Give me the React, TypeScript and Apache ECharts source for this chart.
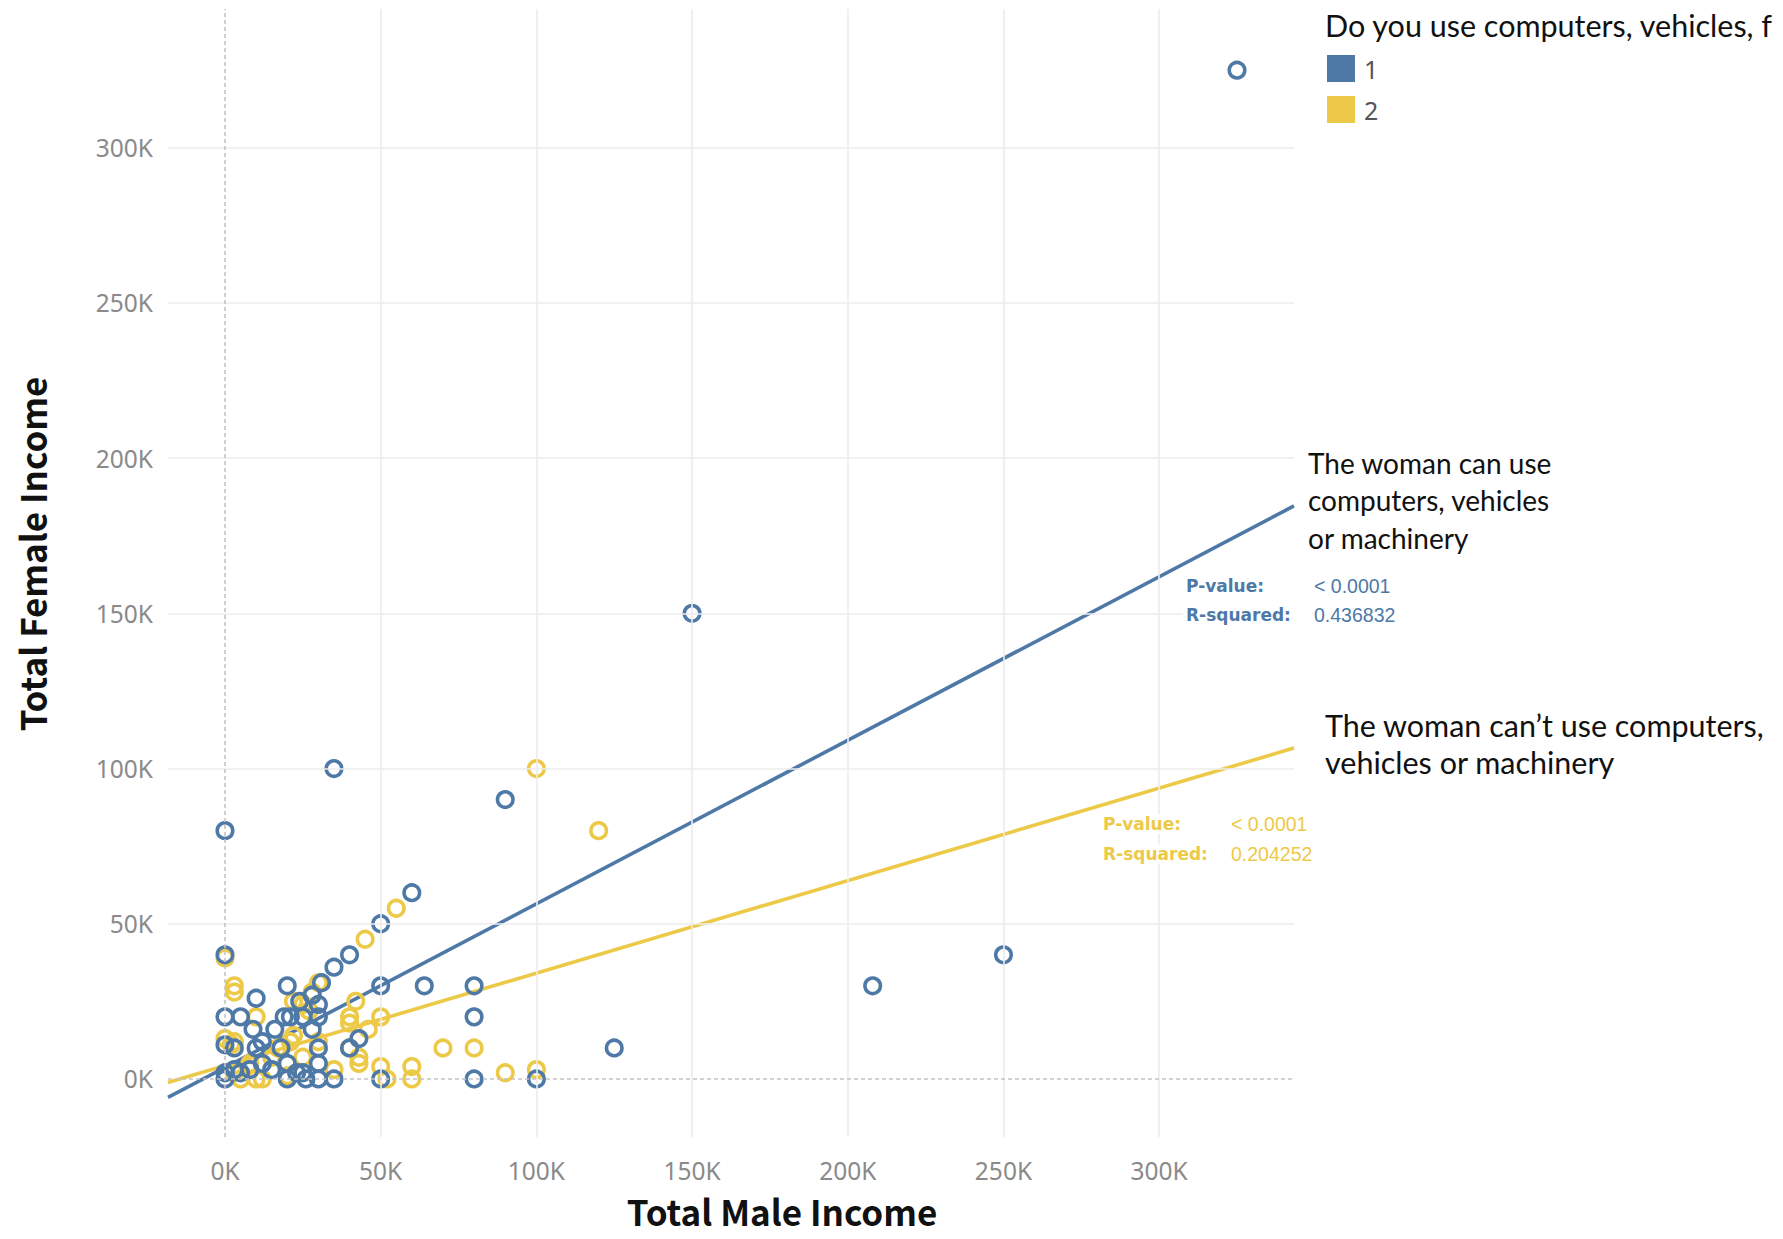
import React, { useEffect, useRef } from "react";
import * as echarts from "echarts";

// Axis ranges and ticks (K = thousands)
const X_MIN = -18300;
const X_MAX = 343300;
const Y_MIN = -18700;
const Y_MAX = 344700;
const X_TICKS = [0, 50000, 100000, 150000, 200000, 250000, 300000];
const Y_TICKS = [0, 50000, 100000, 150000, 200000, 250000, 300000];

const CATEGORIES = ["1", "2"];
const COLORS = ["#4e79a7", "#edc948"];

// Points in thousands: [male income, female income]
const GROUP1_K: [number, number][] = [
  [325, 325], [150, 150], [35, 100], [0, 80], [90, 90], [60, 60], [50, 50], [40, 40],
  [35, 36], [31, 31], [0, 40], [208, 30], [250, 40], [125, 10], [64, 30], [80, 30],
  [80, 20], [80, 0], [100, 0], [50, 30], [50, 0], [35, 0], [40, 10], [43, 13],
  [20, 30], [10, 26], [0, 20], [5, 20], [19, 20], [21, 20], [9, 16], [16, 16],
  [28, 16], [24, 25], [30, 24], [30, 20], [28, 27], [0, 11], [3, 10], [12, 12],
  [10, 10], [30, 10], [30, 5], [30, 0], [20, 5], [20, 0], [25, 2], [26, 0],
  [15, 3], [8, 3], [3, 3], [0, 0], [0, 2], [5, 2], [23, 2], [12, 5], [18, 10], [25, 20],
];
const GROUP2_K: [number, number][] = [
  [100, 100], [120, 80], [55, 55], [45, 45], [0, 39], [3, 30], [3, 28], [42, 25],
  [30, 31], [28, 28], [25, 24], [22, 25], [50, 20], [40, 20], [40, 18], [46, 16],
  [10, 20], [70, 10], [80, 10], [40, 10], [43, 7], [43, 5], [50, 4], [60, 4],
  [60, 0], [52, 0], [90, 2], [100, 3], [0, 13], [3, 12], [2, 11], [5, 0],
  [10, 0], [12, 0], [3, 2], [15, 7], [17, 10], [21, 12], [22, 14], [20, 1],
  [25, 7], [30, 12], [27, 22], [8, 5], [35, 3],
];

// Trend lines: female = intercept + slope * male
const TREND_INTERCEPT = [3700, 4300];
const TREND_SLOPE = [0.527, 0.298];
const P_VALUES = ["< 0.0001", "< 0.0001"];
const R_SQUARED = ["0.436832", "0.204252"];

const LEGEND_TITLE = "Do you use computers, vehicles, f";
const NOTE_1 = "The woman can use\ncomputers, vehicles\nor machinery";
const NOTE_2 = "The woman can\u2019t use computers,\nvehicles or machinery";

const TICK_FONT = "Noto Sans";
const TEXT_FONT = "Noto Sans CJK SC";
const NOTE_FONT = "Lato";

export default function App() {
  const ref = useRef<HTMLDivElement>(null);

  useEffect(() => {
    if (!ref.current) return;
    const chart = echarts.init(ref.current, undefined, { renderer: "svg" });

    const toPts = (arr: [number, number][]) => arr.map(([x, y]) => [x * 1000, y * 1000]);
    const trend = (i: number) => [
      [X_MIN, TREND_INTERCEPT[i] + TREND_SLOPE[i] * X_MIN],
      [X_MAX, TREND_INTERCEPT[i] + TREND_SLOPE[i] * X_MAX],
    ];

    const gridLine = { color: "#ececec", width: 1.6, type: "solid" };
    const zeroLine = { color: "#c4c4c4", width: 1.6, type: [4, 3] };

    const annot = (x: number, y: number, text: string, color: string, bold: boolean, fam: string, size: number, bg?: boolean) => ({
      type: "text",
      x,
      y,
      z: 50,
      silent: true,
      style: {
        text,
        fill: color,
        fontSize: size,
        fontWeight: bold ? "bold" : "normal",
        fontFamily: fam,
        align: "left",
        verticalAlign: "middle",
        ...(bg ? { backgroundColor: "#ffffff", padding: [1, 3] } : {}),
      },
    });

    const option: any = {
      animation: false,
      backgroundColor: "#ffffff",
      grid: { left: 168, top: 9, width: 1126, height: 1128, containLabel: false },
      xAxis: {
        type: "value",
        min: X_MIN,
        max: X_MAX,
        axisLine: { show: false },
        axisTick: { show: false },
        splitLine: { show: false },
        axisLabel: {
          customValues: X_TICKS,
          formatter: (v: number) => `${Math.round(v / 1000)}K`,
          color: "#8a8a8a",
          fontSize: 24.5,
          fontFamily: TICK_FONT,
          margin: 21,
        },
      },
      yAxis: {
        type: "value",
        min: Y_MIN,
        max: Y_MAX,
        axisLine: { show: false },
        axisTick: { show: false },
        splitLine: { show: false },
        axisLabel: {
          customValues: Y_TICKS,
          formatter: (v: number) => `${Math.round(v / 1000)}K`,
          color: "#8a8a8a",
          fontSize: 24.5,
          fontFamily: TICK_FONT,
          margin: 15,
        },
      },
      legend: {
        data: CATEGORIES.map((c, i) => ({ name: c, icon: "rect", itemStyle: { color: COLORS[i], borderWidth: 0 } })),
        orient: "vertical",
        left: 1322,
        top: 50,
        itemWidth: 28,
        itemHeight: 27,
        itemGap: 14,
        selectedMode: false,
        textStyle: { fontSize: 25, color: "#555555", fontFamily: TICK_FONT, padding: [0, 0, 0, 4] },
      },
      series: [
        {
          name: "grid",
          type: "scatter",
          data: [],
          z: 0,
          silent: true,
          markLine: {
            silent: true,
            symbol: ["none", "none"],
            label: { show: false },
            lineStyle: gridLine,
            data: [
              ...X_TICKS.filter((v) => v !== 0).map((v) => ({ xAxis: v })),
              ...Y_TICKS.filter((v) => v !== 0).map((v) => ({ yAxis: v })),
            ],
          },
        },
        {
          name: "zero",
          type: "scatter",
          data: [],
          z: 1,
          silent: true,
          markLine: {
            silent: true,
            symbol: ["none", "none"],
            label: { show: false },
            lineStyle: zeroLine,
            data: [{ xAxis: 0 }, { yAxis: 0 }],
          },
        },
        {
          name: "trend2",
          type: "line",
          data: trend(1),
          showSymbol: false,
          silent: true,
          z: 2,
          lineStyle: { color: COLORS[1], width: 3.6 },
        },
        {
          name: "trend1",
          type: "line",
          data: trend(0),
          showSymbol: false,
          silent: true,
          z: 2,
          lineStyle: { color: COLORS[0], width: 3.6 },
        },
        {
          name: CATEGORIES[1],
          type: "scatter",
          data: toPts(GROUP2_K),
          symbol: "circle",
          symbolSize: 15.5,
          z: 3,
          itemStyle: { color: "rgba(0,0,0,0)", borderColor: COLORS[1], borderWidth: 3.6, opacity: 1 },
        },
        {
          name: CATEGORIES[0],
          type: "scatter",
          data: toPts(GROUP1_K),
          symbol: "circle",
          symbolSize: 15.5,
          z: 4,
          itemStyle: { color: "rgba(0,0,0,0)", borderColor: COLORS[0], borderWidth: 3.6, opacity: 1 },
        },
      ],
      graphic: [
        {
          type: "text",
          x: 782,
          y: 1210,
          silent: true,
          style: {
            text: "Total Male Income",
            fill: "#111111",
            fontSize: 35,
            fontWeight: "bold",
            fontFamily: TEXT_FONT,
            align: "center",
            verticalAlign: "middle",
          },
        },
        {
          type: "text",
          x: 31,
          y: 554,
          rotation: Math.PI / 2,
          silent: true,
          style: {
            text: "Total Female Income",
            fill: "#111111",
            fontSize: 35,
            fontWeight: "bold",
            fontFamily: TEXT_FONT,
            align: "center",
            verticalAlign: "middle",
          },
        },
        annot(1325, 25, LEGEND_TITLE, "#111111", false, NOTE_FONT, 30.5),
        {
          type: "text",
          x: 1308,
          y: 444,
          silent: true,
          style: { text: NOTE_1, fill: "#111111", fontSize: 28, fontFamily: NOTE_FONT, lineHeight: 37.5, align: "left", verticalAlign: "top" },
        },
        {
          type: "text",
          x: 1325,
          y: 706,
          silent: true,
          style: { text: NOTE_2, fill: "#111111", fontSize: 30.5, fontFamily: NOTE_FONT, lineHeight: 37.5, align: "left", verticalAlign: "top" },
        },
        annot(1183, 586, "P-value:", COLORS[0], true, "DejaVu Sans", 17, true),
        annot(1311, 586, P_VALUES[0], COLORS[0], false, "Liberation Sans", 19.5, true),
        annot(1183, 615, "R-squared:", COLORS[0], true, "DejaVu Sans", 17, true),
        annot(1311, 615, R_SQUARED[0], COLORS[0], false, "Liberation Sans", 19.5, true),
        annot(1100, 824, "P-value:", COLORS[1], true, "DejaVu Sans", 17, true),
        annot(1228, 824, P_VALUES[1], COLORS[1], false, "Liberation Sans", 19.5, true),
        annot(1100, 854, "R-squared:", COLORS[1], true, "DejaVu Sans", 17, true),
        annot(1228, 854, R_SQUARED[1], COLORS[1], false, "Liberation Sans", 19.5, true),
      ],
    };

    chart.setOption(option);
    return () => chart.dispose();
  }, []);

  return (
    <div
      ref={ref}
      style={{ position: "fixed", left: 0, top: 0, width: 1783, height: 1239, background: "#fff" }}
    />
  );
}
